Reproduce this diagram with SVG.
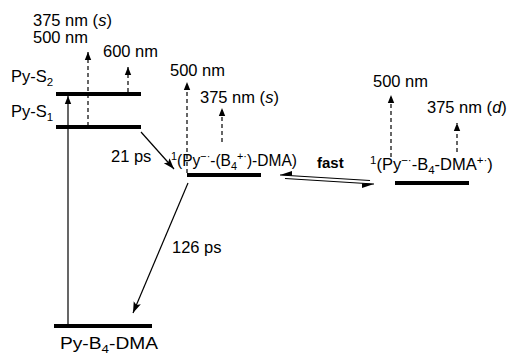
<svg xmlns="http://www.w3.org/2000/svg" width="511" height="355" viewBox="0 0 511 355">
  <defs>
    <marker id="head" viewBox="0 0 10 10" refX="10" refY="5" markerWidth="8" markerHeight="8" markerUnits="userSpaceOnUse" orient="auto">
      <path d="M0,1 L10,5 L0,9 Z" fill="#000"/>
    </marker>
    <marker id="headBig" viewBox="0 0 10 10" refX="10" refY="5" markerWidth="11" markerHeight="11" markerUnits="userSpaceOnUse" orient="auto">
      <path d="M0,1.5 L10,5 L0,8.5 L2,5 Z" fill="#000"/>
    </marker>
    <marker id="harpoon" viewBox="0 0 10 10" refX="10" refY="4" markerWidth="12" markerHeight="12" markerUnits="userSpaceOnUse" orient="auto">
      <path d="M0,4 L10,4 L0,8 Z" fill="#000"/>
    </marker>
  </defs>
  <style>
    text { font-family: "Liberation Sans", Arial, sans-serif; font-size: 16.5px; fill: #000; }
    .sub { font-size: 11.5px; }
    .sup { font-size: 11.5px; }
    .bold { font-weight: bold; font-size: 15px; }
    .level { stroke: #000; stroke-width: 4; }
    .solid { stroke: #000; stroke-width: 1.2; fill: none; }
    .dash { stroke: #000; stroke-width: 1.2; fill: none; stroke-dasharray: 4 3; }
  </style>

  <!-- energy levels -->
  <g id="py-s2">
    <line class="level" x1="56" y1="94" x2="141" y2="94"/>
    <text x="11" y="82">Py-S<tspan class="sub" dy="4">2</tspan></text>
  </g>
  <g id="py-s1">
    <line class="level" x1="56" y1="127" x2="141" y2="127"/>
    <text x="11" y="117">Py-S<tspan class="sub" dy="4">1</tspan></text>
  </g>
  <g id="ground">
    <line class="level" x1="54" y1="326" x2="152" y2="326"/>
    <text x="60" y="349" textLength="98" lengthAdjust="spacingAndGlyphs">Py-B<tspan class="sub" dy="4">4</tspan><tspan dy="-4">-DMA</tspan></text>
  </g>
  <g id="ct-state">
    <line class="level" x1="187" y1="175" x2="261" y2="175"/>
    <text x="171" y="166" textLength="126" lengthAdjust="spacingAndGlyphs"><tspan class="sup" dy="-6">1</tspan><tspan dy="6">(Py</tspan><tspan class="sup" dy="-6">−·</tspan><tspan dy="6">-(B</tspan><tspan class="sub" dy="4">4</tspan><tspan class="sup" dy="-10">+·</tspan><tspan dy="6">)-DMA)</tspan></text>
  </g>
  <g id="cs-state">
    <line class="level" x1="395" y1="183" x2="469" y2="183"/>
    <text x="370" y="170"><tspan class="sup" dy="-6">1</tspan><tspan dy="6">(Py</tspan><tspan class="sup" dy="-6">−·</tspan><tspan dy="6">-B</tspan><tspan class="sub" dy="4">4</tspan><tspan dy="-4">-DMA</tspan><tspan class="sup" dy="-6">+·</tspan><tspan dy="6">)</tspan></text>
  </g>

  <!-- absorption bands -->
  <g id="bands">
    <text x="33" y="26">375 nm (<tspan font-style="italic">s</tspan>)</text>
    <text x="33" y="43">500 nm</text>
    <text x="103" y="57">600 nm</text>
    <text x="170" y="76">500 nm</text>
    <text x="200" y="103">375 nm (<tspan font-style="italic">s</tspan>)</text>
    <text x="373" y="87">500 nm</text>
    <text x="427" y="113">375 nm (<tspan font-style="italic">d</tspan>)</text>
  </g>

  <!-- rate labels -->
  <g id="rates">
    <text x="111" y="162">21 ps</text>
    <text x="172" y="253">126 ps</text>
    <text class="bold" x="317" y="168">fast</text>
  </g>

  <!-- connectors -->
  <g id="connectors">
    <line class="solid" x1="68" y1="325" x2="68" y2="96" marker-end="url(#head)"/>
    <line class="dash" x1="88" y1="126" x2="88" y2="52" marker-end="url(#head)"/>
    <line class="dash" x1="128" y1="92" x2="128" y2="67" marker-end="url(#head)"/>
    <line class="dash" x1="187" y1="173" x2="187" y2="82" marker-end="url(#head)"/>
    <line class="dash" x1="222" y1="142" x2="222" y2="108" marker-end="url(#head)"/>
    <line class="dash" x1="391" y1="157" x2="391" y2="95" marker-end="url(#head)"/>
    <line class="dash" x1="457" y1="152" x2="457" y2="123" marker-end="url(#head)"/>
    <line class="solid" x1="141" y1="132" x2="174" y2="169" marker-end="url(#headBig)"/>
    <line class="solid" x1="188" y1="183" x2="133" y2="313" marker-end="url(#headBig)"/>
    <line class="solid" x1="370" y1="180.5" x2="280" y2="175" marker-end="url(#harpoon)"/>
    <line class="solid" x1="285" y1="178.5" x2="374" y2="184" marker-end="url(#harpoon)"/>
  </g>
</svg>
